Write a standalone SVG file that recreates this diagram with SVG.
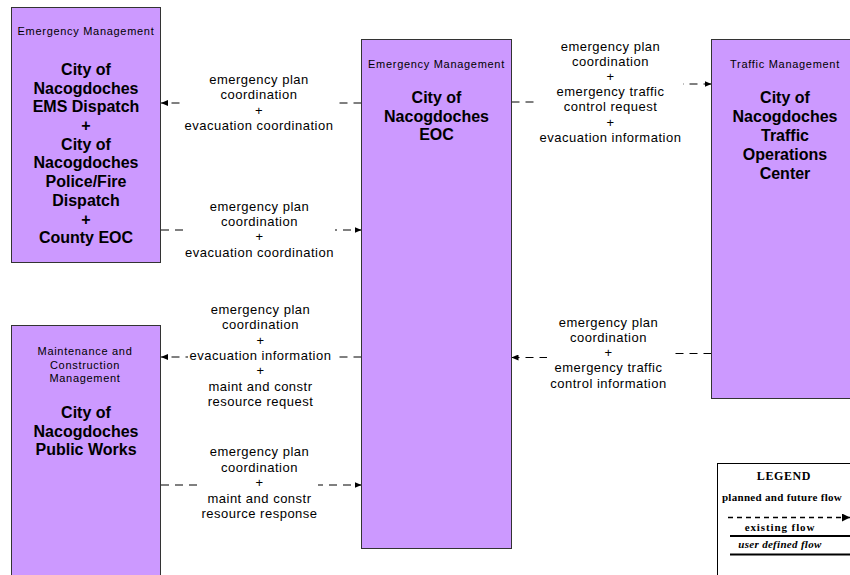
<svg xmlns="http://www.w3.org/2000/svg" width="850" height="575" viewBox="0 0 850 575">
<defs>
<style>
.box{fill:#CC99FF;stroke:#333;stroke-width:1}
.hdr{font-family:"Liberation Sans",Arial,sans-serif;font-size:11px;letter-spacing:0.7px;text-anchor:middle;fill:#000}
.ttl{font-family:"Liberation Sans",Arial,sans-serif;font-size:16px;font-weight:bold;text-anchor:middle;fill:#000}
.lbl{font-family:"Liberation Sans",Arial,sans-serif;font-size:13px;letter-spacing:0.5px;text-anchor:middle;fill:#000}
.flow{fill:none;stroke:#000;stroke-width:1;stroke-dasharray:8,6;marker-end:url(#ah)}
.bg{fill:#fff;stroke:none}
.leg{font-family:"Liberation Serif","Times New Roman",serif;font-size:11px;font-weight:bold;text-anchor:middle;fill:#000}
</style>
<marker id="ah" viewBox="0 0 7 6" refX="7" refY="3" markerWidth="7" markerHeight="6" markerUnits="userSpaceOnUse" orient="auto"><path d="M0,0 L7,3 L0,6 z" fill="#000"/></marker>
<marker id="ahl" viewBox="0 0 8 8" refX="8" refY="4" markerWidth="8" markerHeight="8" markerUnits="userSpaceOnUse" orient="auto"><path d="M0,0 L8,4 L0,8 z" fill="#000"/></marker>
</defs>
<rect width="850" height="575" fill="#fff"/>

<g id="connectors">
  <g id="c1">
    <path class="flow" d="M361.5,103 H161"/>
    <rect class="bg" x="184" y="72" width="155" height="62"/>
    <text class="lbl" x="259" y="84">emergency plan</text>
    <text class="lbl" x="259" y="99.3">coordination</text>
    <text class="lbl" x="259" y="114.6">+</text>
    <text class="lbl" x="259" y="130">evacuation coordination</text>
  </g>
  <g id="c2">
    <path class="flow" d="M161,230 H361.5"/>
    <rect class="bg" x="184" y="198" width="151" height="62"/>
    <text class="lbl" x="259.5" y="210.7">emergency plan</text>
    <text class="lbl" x="259.5" y="226">coordination</text>
    <text class="lbl" x="259.5" y="241.3">+</text>
    <text class="lbl" x="259.5" y="256.6">evacuation coordination</text>
  </g>
  <g id="c3">
    <path class="flow" d="M511.5,102 H610 V84 H711.5"/>
    <rect class="bg" x="537" y="38" width="146" height="108"/>
    <text class="lbl" x="610.5" y="50.5">emergency plan</text>
    <text class="lbl" x="610.5" y="65.7">coordination</text>
    <text class="lbl" x="610.5" y="80.9">+</text>
    <text class="lbl" x="610.5" y="96.1">emergency traffic</text>
    <text class="lbl" x="610.5" y="111.3">control request</text>
    <text class="lbl" x="610.5" y="126.5">+</text>
    <text class="lbl" x="610.5" y="141.7">evacuation information</text>
  </g>
  <g id="c4">
    <path class="flow" d="M711.5,353.5 H610 V357.5 H511.5"/>
    <rect class="bg" x="547" y="313" width="123" height="80"/>
    <text class="lbl" x="608.5" y="326.7">emergency plan</text>
    <text class="lbl" x="608.5" y="341.9">coordination</text>
    <text class="lbl" x="608.5" y="357.1">+</text>
    <text class="lbl" x="608.5" y="372.3">emergency traffic</text>
    <text class="lbl" x="608.5" y="387.5">control information</text>
  </g>
  <g id="c5">
    <path class="flow" d="M361.5,357 H161"/>
    <rect class="bg" x="188" y="301" width="147" height="110"/>
    <text class="lbl" x="260.5" y="314">emergency plan</text>
    <text class="lbl" x="260.5" y="329.3">coordination</text>
    <text class="lbl" x="260.5" y="344.6">+</text>
    <text class="lbl" x="260.5" y="359.9">evacuation information</text>
    <text class="lbl" x="260.5" y="375.2">+</text>
    <text class="lbl" x="260.5" y="390.5">maint and constr</text>
    <text class="lbl" x="260.5" y="405.8">resource request</text>
  </g>
  <g id="c6">
    <path class="flow" d="M161,485 H361.5"/>
    <rect class="bg" x="197" y="443" width="121" height="80"/>
    <text class="lbl" x="259.5" y="456.2">emergency plan</text>
    <text class="lbl" x="259.5" y="471.7">coordination</text>
    <text class="lbl" x="259.5" y="487.2">+</text>
    <text class="lbl" x="259.5" y="502.7">maint and constr</text>
    <text class="lbl" x="259.5" y="518.2">resource response</text>
  </g>
</g>

<g id="ems">
  <rect class="box" x="11.5" y="7.5" width="149" height="255"/>
  <text class="hdr" x="86" y="35">Emergency Management</text>
  <text class="ttl" x="86" y="75">City of</text>
  <text class="ttl" x="86" y="93.7">Nacogdoches</text>
  <text class="ttl" x="86" y="112.3">EMS Dispatch</text>
  <text class="ttl" x="86" y="130.5">+</text>
  <text class="ttl" x="86" y="149.6">City of</text>
  <text class="ttl" x="86" y="168.3">Nacogdoches</text>
  <text class="ttl" x="86" y="187">Police/Fire</text>
  <text class="ttl" x="86" y="205.6">Dispatch</text>
  <text class="ttl" x="86" y="225">+</text>
  <text class="ttl" x="86" y="243">County EOC</text>
</g>

<g id="eoc">
  <rect class="box" x="361.5" y="39.5" width="150" height="509"/>
  <text class="hdr" x="436.5" y="67.5">Emergency Management</text>
  <text class="ttl" x="436.5" y="102.7">City of</text>
  <text class="ttl" x="436.5" y="121.5">Nacogdoches</text>
  <text class="ttl" x="436.5" y="140.3">EOC</text>
</g>

<g id="traffic">
  <rect class="box" x="711.5" y="39.5" width="150" height="359"/>
  <text class="hdr" x="785" y="67.5">Traffic Management</text>
  <text class="ttl" x="785" y="102.7">City of</text>
  <text class="ttl" x="785" y="121.8">Nacogdoches</text>
  <text class="ttl" x="785" y="140.9">Traffic</text>
  <text class="ttl" x="785" y="160">Operations</text>
  <text class="ttl" x="785" y="179.1">Center</text>
</g>

<g id="publicworks">
  <rect class="box" x="11.5" y="325.5" width="149" height="260"/>
  <text class="hdr" x="85" y="355">Maintenance and</text>
  <text class="hdr" x="85" y="368.5">Construction</text>
  <text class="hdr" x="85" y="382">Management</text>
  <text class="ttl" x="86" y="418.3">City of</text>
  <text class="ttl" x="86" y="436.8">Nacogdoches</text>
  <text class="ttl" x="86" y="455.3">Public Works</text>
</g>

<g id="legend">
  <rect x="717.5" y="463.5" width="150" height="130" fill="#fff" stroke="#000" stroke-width="1"/>
  <text class="leg" x="784" y="480" style="font-size:12px;letter-spacing:0.6px">LEGEND</text>
  <text class="leg" x="782" y="501" style="letter-spacing:0.3px">planned and future flow</text>
  <path d="M728,517.5 H850" fill="none" stroke="#000" stroke-width="1.5" stroke-dasharray="5,4" marker-end="url(#ahl)"/>
  <text class="leg" x="780" y="531" style="letter-spacing:0.9px">existing flow</text>
  <path d="M730,536 H850" fill="none" stroke="#000" stroke-width="2"/>
  <text class="leg" x="780" y="548" style="font-style:italic;letter-spacing:0.3px">user defined flow</text>
  <path d="M730,554.5 H850" fill="none" stroke="#000" stroke-width="2"/>
</g>
</svg>
